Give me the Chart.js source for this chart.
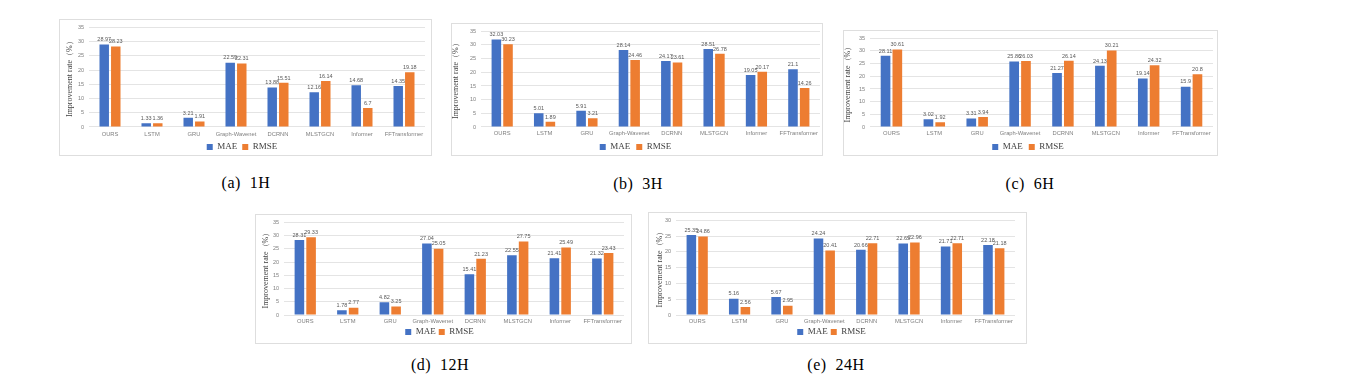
<!DOCTYPE html>
<html><head><meta charset="utf-8">
<script src="https://cdn.jsdelivr.net/npm/chart.js@4.4.1/dist/chart.umd.min.js"></script>
<style>
html,body{margin:0;padding:0;background:#fff}
body{width:1349px;height:391px;position:relative;overflow:hidden}
.panel{position:absolute;border:1px solid #dedede;box-sizing:border-box;background:#fff}
.panel canvas{position:absolute;left:-1px;top:-1px}
.cap{position:absolute;font-family:"Liberation Serif","Times New Roman",serif;font-size:16px;color:#000;transform:translate(-50%,-50%);white-space:pre;line-height:1;letter-spacing:0.5px}
</style></head><body>
<script>
// ---- data ----
const categories = ['OURS','LSTM','GRU','Graph-Wavenet','DCRNN','MLSTGCN','Informer','FFTransformer'];
const seriesNames = ['MAE','RMSE'];
const mae1H  = [28.97,1.33,3.21,22.59,13.88,12.16,14.68,14.35];
const rmse1H = [28.23,1.36,1.91,22.31,15.51,16.14,6.7,19.18];
const mae3H  = [32.03,5.01,5.91,28.14,24.17,28.51,19.05,21.1];
const rmse3H = [30.23,1.89,3.21,24.46,23.61,26.78,20.17,14.26];
const mae6H  = [28.11,3.02,3.31,25.86,21.27,24.13,19.14,15.9];
const rmse6H = [30.61,1.92,3.94,26.03,26.14,30.21,24.32,20.8];
const mae12H  = [28.31,1.78,4.82,27.04,15.41,22.55,21.41,21.32];
const rmse12H = [29.33,2.77,3.25,25.05,21.23,27.75,25.49,23.43];
const mae24H  = [25.35,5.16,5.67,24.24,20.66,22.65,21.71,22.18];
const rmse24H = [24.86,2.56,2.95,20.41,22.71,22.96,22.71,21.18];
const panelCaptions = ['(a)  1H','(b)  3H','(c)  6H','(d)  12H','(e)  24H'];
const yMaxes = [35,35,35,35,30];
const yStep = 5;
const yTitle = 'Improvement rate（%）';

// ---- layout (positions only) ----
const layout = [
 {box:[59,19,373,137],  plot:[89,25,425,127],   titleX:70,  labelY:134, legendY:147, cap:[246,183]},
 {box:[451,23,372,133], plot:[481,30,820,127],  titleX:456, labelY:133, legendY:147, cap:[638,184]},
 {box:[843,30,375,126], plot:[870,37,1213,127], titleX:848, labelY:133, legendY:147, cap:[1030,184]},
 {box:[255,214,377,130],plot:[284,221,624,315], titleX:266, labelY:321, legendY:332, cap:[440,365]},
 {box:[648,212,379,132],plot:[676,220,1015,315],titleX:660, labelY:321, legendY:332, cap:[836,365]}
];
const seriesSets = [[mae1H,rmse1H],[mae3H,rmse3H],[mae6H,rmse6H],[mae12H,rmse12H],[mae24H,rmse24H]];
const colors = ['#4472C4','#ED7D31'];

const valueLabels = {
  id:'valueLabels',
  afterDatasetsDraw(chart){
    const ctx = chart.ctx; ctx.save();
    ctx.font = '5.5px "Liberation Sans", Arial, sans-serif';
    ctx.fillStyle = '#595959'; ctx.textAlign = 'center'; ctx.textBaseline = 'bottom';
    chart.data.datasets.forEach((ds,i)=>{
      chart.getDatasetMeta(i).data.forEach((bar,j)=>{ ctx.fillText(String(ds.data[j]), bar.x, bar.y - 2); });
    });
    ctx.restore();
  }
};

function build(i){
  const L = layout[i];
  const [bx,by,bw,bh] = L.box; const [pl,pt,pr,pb] = L.plot;
  const div = document.createElement('div'); div.className='panel';
  Object.assign(div.style,{left:bx+'px',top:by+'px',width:bw+'px',height:bh+'px'});
  const cv = document.createElement('canvas'); cv.width = bw; cv.height = bh;
  cv.style.width = bw+'px'; cv.style.height = bh+'px';
  div.appendChild(cv); document.body.appendChild(div);

  const tickSize = 5.8, tickLH = tickSize*1.2;
  const tickPad = Math.max(0, L.labelY - pb - tickLH/2);
  const xHeight = tickPad + tickLH;
  const legSize = 9;
  const legTop = pb + xHeight;
  const legPad = Math.max(1, L.legendY - legTop - legSize/2);
  const legHeight = (by + bh) - legTop;
  const titleSize = 8;

  new Chart(cv, {
    type:'bar',
    data:{ labels:categories, datasets: seriesSets[i].map((d,k)=>({
      label:seriesNames[k], data:d, backgroundColor:colors[k], borderWidth:0,
      categoryPercentage:0.55, barPercentage:0.82 })) },
    options:{
      responsive:false, animation:false, devicePixelRatio:1,
      layout:{padding:{left:0, top:pt-by, right:(bx+bw)-pr, bottom:0}},
      plugins:{
        tooltip:{enabled:false},
        legend:{ position:'bottom', align:'center', maxHeight:legHeight,
          labels:{ boxWidth:6, boxHeight:6, padding:legPad, color:'#404040',
            font:{family:'"Liberation Serif","Times New Roman",serif', size:legSize} } }
      },
      scales:{
        x:{ grid:{display:false, drawTicks:false}, border:{display:false},
            ticks:{ autoSkip:false, maxRotation:0, minRotation:0, padding:tickPad, color:'#7f7f7f',
              font:{family:'"Liberation Sans", Arial, sans-serif', size:tickSize} },
            afterFit(s){ s.height = xHeight; } },
        y:{ min:0, max:yMaxes[i], grid:{color:'#e4e4e4', drawTicks:false, lineWidth:1}, border:{display:false},
            ticks:{ stepSize:yStep, padding:5, color:'#7f7f7f',
              font:{family:'"Liberation Sans", Arial, sans-serif', size:5.5} },
            title:{ display:true, text:yTitle, color:'#404040',
              font:{family:'"Liberation Serif","Times New Roman",serif', size:titleSize},
              padding:{top:Math.max(0, L.titleX - bx - titleSize*0.6), bottom:0} },
            afterFit(s){ s.width = pl - bx; } }
      }
    },
    plugins:[valueLabels]
  });

  const cap = document.createElement('div'); cap.className='cap';
  cap.textContent = panelCaptions[i];
  cap.style.left = L.cap[0]+'px'; cap.style.top = L.cap[1]+'px';
  document.body.appendChild(cap);
}
for (let i=0;i<5;i++) build(i);
</script>
</body></html>
